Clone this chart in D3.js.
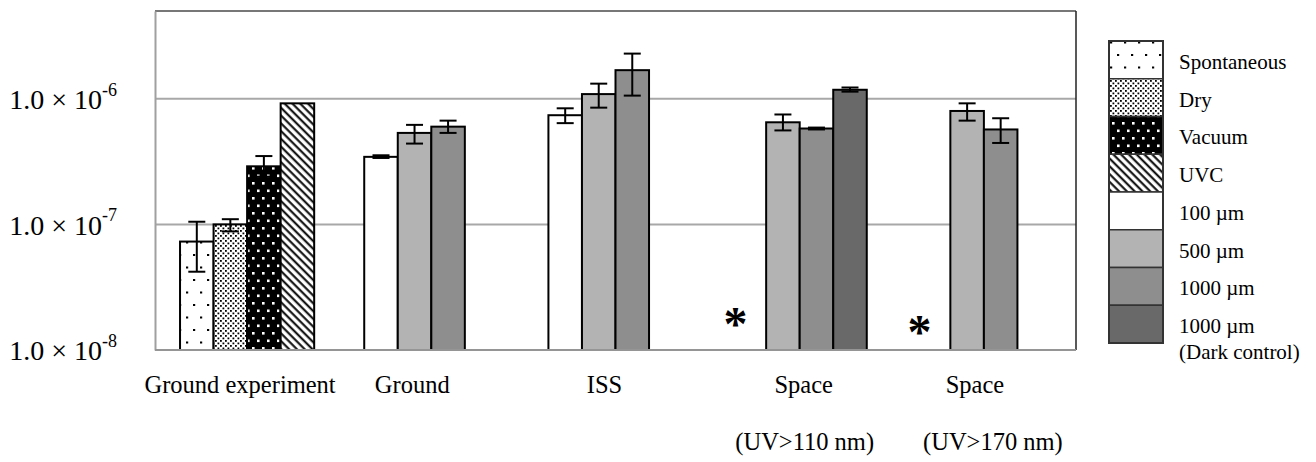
<!DOCTYPE html>
<html>
<head>
<meta charset="utf-8">
<script src="https://cdn.jsdelivr.net/npm/d3@7"></script>
<style>
  body { margin: 0; background: #fff; }
  svg { font-family: "Liberation Serif", "Times New Roman", serif; }
</style>
</head>
<body>
<svg id="canvas" width="1316" height="462"></svg>
<script>
// categories along the x axis
let categories = ['Ground experiment', 'Ground', 'ISS', 'Space (UV>110 nm)', 'Space (UV>170 nm)']

// ground experiment series (first category only)
let groundSeries = ['Spontaneous', 'Dry', 'Vacuum', 'UVC']
let groundValues = [7.3e-8, 1.0e-7, 2.9e-7, 9.2e-7]
let groundErrLow = [4.2e-8, 8.8e-8, 2.4e-7, null]
let groundErrHigh = [1.05e-7, 1.1e-7, 3.5e-7, null]

// thickness series (other categories)
let thickSeries = ['100 µm', '500 µm', '1000 µm', '1000 µm (Dark control)']
let thickCategories = ['Ground', 'ISS', 'Space (UV>110 nm)', 'Space (UV>170 nm)']
let values100 = [3.45e-7, 7.4e-7, null, null]
let values500 = [5.35e-7, 1.09e-6, 6.5e-7, 8.0e-7]
let values1000 = [6.0e-7, 1.69e-6, 5.8e-7, 5.7e-7]
let valuesDark = [null, null, 1.18e-6, null]
let errLow100 = [3.38e-7, 6.4e-7, null, null]
let errHigh100 = [3.55e-7, 8.4e-7, null, null]
let errLow500 = [4.4e-7, 8.5e-7, 5.6e-7, 6.7e-7]
let errHigh500 = [6.2e-7, 1.32e-6, 7.5e-7, 9.2e-7]
let errLow1000 = [5.35e-7, 1.06e-6, 5.7e-7, 4.45e-7]
let errHigh1000 = [6.7e-7, 2.29e-6, 5.9e-7, 7.0e-7]
let errLowDark = [null, null, 1.14e-6, null]
let errHighDark = [null, null, 1.23e-6, null]

// not detected (asterisk)
let notDetected = ['Space (UV>110 nm)', 'Space (UV>170 nm)']

let yTicks = [1e-8, 1e-7, 1e-6]
let yGrid = [1e-7, 1e-6]

let legendLabels = ['Spontaneous', 'Dry', 'Vacuum', 'UVC', '100 µm', '500 µm', '1000 µm', '1000 µm']

let canvas = d3.select('#canvas')

let plotLeft = 155, plotRight = 1076, plotTop = 11, plotBottom = 350

let xScale = d3.scaleBand()
    .domain(categories)
    .range([plotLeft, plotRight])
    .paddingInner(0.2717)
    .paddingOuter(0.1359)

let slotScale = d3.scaleBand()
    .domain([0, 1, 2, 3])
    .range([0, xScale.bandwidth()])

let yScale = d3.scaleLog()
    .domain([1e-8, 5e-6])
    .range([plotBottom, plotTop])

// patterns
let defs = canvas.append('defs')

let pSpont = defs.append('pattern').attr('id', 'spont')
    .attr('patternUnits', 'userSpaceOnUse').attr('width', 14).attr('height', 25)
    .attr('x', 4).attr('y', 0)
pSpont.append('rect').attr('width', 14).attr('height', 25).attr('fill', '#fff')
pSpont.append('rect').attr('x', 7).attr('y', 4).attr('width', 2.2).attr('height', 2).attr('fill', '#000')
pSpont.append('rect').attr('x', 0).attr('y', 16.5).attr('width', 2.2).attr('height', 2).attr('fill', '#000')

let pDry = defs.append('pattern').attr('id', 'dry')
    .attr('patternUnits', 'userSpaceOnUse').attr('width', 5).attr('height', 5)
pDry.append('rect').attr('width', 5).attr('height', 5).attr('fill', '#fff')
pDry.append('rect').attr('x', 0).attr('y', 0).attr('width', 1.8).attr('height', 1.8).attr('fill', '#000')
pDry.append('rect').attr('x', 2.5).attr('y', 2.5).attr('width', 1.8).attr('height', 1.8).attr('fill', '#000')

let pVac = defs.append('pattern').attr('id', 'vacuum')
    .attr('patternUnits', 'userSpaceOnUse').attr('width', 10).attr('height', 15)
pVac.append('rect').attr('width', 10).attr('height', 15).attr('fill', '#000')
pVac.append('rect').attr('x', 2).attr('y', 2).attr('width', 2.6).attr('height', 2.6).attr('fill', '#fff')
pVac.append('rect').attr('x', 7).attr('y', 9.5).attr('width', 2.6).attr('height', 2.6).attr('fill', '#fff')

let pUvc = defs.append('pattern').attr('id', 'uvc')
    .attr('patternUnits', 'userSpaceOnUse').attr('width', 5.5).attr('height', 10)
    .attr('patternTransform', 'rotate(-45)')
pUvc.append('rect').attr('width', 5.5).attr('height', 10).attr('fill', '#fff')
pUvc.append('line').attr('x1', 1.5).attr('x2', 1.5).attr('y1', 0).attr('y2', 10)
    .attr('stroke', '#000').attr('stroke-width', 2)

let groundFills = ['url(#spont)', 'url(#dry)', 'url(#vacuum)', 'url(#uvc)']
let thickFills = ['#ffffff', '#b3b3b3', '#8e8e8e', '#696969']
let legendFills = groundFills.concat(thickFills)

// gridlines
canvas.append('g').selectAll('line')
    .data(yGrid)
    .enter()
    .append('line')
    .attr('x1', plotLeft).attr('x2', plotRight)
    .attr('y1', (d) => yScale(d)).attr('y2', (d) => yScale(d))
    .attr('stroke', '#a8a8a8').attr('stroke-width', 2)

// frame
canvas.append('line').attr('x1', plotLeft).attr('x2', plotRight).attr('y1', plotTop).attr('y2', plotTop)
    .attr('stroke', '#4a4a4a').attr('stroke-width', 1.5)
canvas.append('line').attr('x1', plotRight).attr('x2', plotRight).attr('y1', plotTop).attr('y2', plotBottom)
    .attr('stroke', '#222').attr('stroke-width', 1.5)

// build bar records
let bars = []
groundSeries.forEach((s, i) => {
    bars.push({cat: categories[0], slot: i, value: groundValues[i], lo: groundErrLow[i], hi: groundErrHigh[i], fill: groundFills[i]})
})
let thickVals = [values100, values500, values1000, valuesDark]
let thickLo = [errLow100, errLow500, errLow1000, errLowDark]
let thickHi = [errHigh100, errHigh500, errHigh1000, errHighDark]
thickCategories.forEach((c, ci) => {
    thickVals.forEach((arr, si) => {
        if (arr[ci] != null) {
            bars.push({cat: c, slot: si, value: arr[ci], lo: thickLo[si][ci], hi: thickHi[si][ci], fill: thickFills[si]})
        }
    })
})

let barX = (b) => xScale(b.cat) + slotScale(b.slot)

canvas.append('g').selectAll('rect')
    .data(bars)
    .enter()
    .append('rect')
    .attr('x', barX)
    .attr('y', (b) => yScale(b.value))
    .attr('width', slotScale.bandwidth())
    .attr('height', (b) => plotBottom - yScale(b.value))
    .attr('fill', (b) => b.fill)
    .attr('stroke', '#000')
    .attr('stroke-width', 2)

// error bars
let errBars = bars.filter((b) => b.lo != null)
let eb = canvas.append('g').selectAll('g')
    .data(errBars)
    .enter()
    .append('g')
    .attr('transform', (b) => 'translate(' + (barX(b) + slotScale.bandwidth() / 2) + ',0)')
    .attr('stroke', '#000')
    .attr('stroke-width', 2)
eb.append('line').attr('y1', (b) => yScale(b.lo)).attr('y2', (b) => yScale(b.hi))
eb.append('line').attr('x1', -8.5).attr('x2', 8.5).attr('y1', (b) => yScale(b.lo)).attr('y2', (b) => yScale(b.lo))
eb.append('line').attr('x1', -8.5).attr('x2', 8.5).attr('y1', (b) => yScale(b.hi)).attr('y2', (b) => yScale(b.hi))

// asterisks for not detected 100 µm
let asteriskY = [340, 348]
canvas.append('g').selectAll('text')
    .data(notDetected)
    .enter()
    .append('text')
    .attr('x', (c) => xScale(c) + slotScale(0) + slotScale.bandwidth() / 2 - 14)
    .attr('y', (c, i) => asteriskY[i])
    .attr('text-anchor', 'middle')
    .attr('font-size', 48)
    .attr('font-weight', 'bold')
    .text('*')

// y axis
let yAxis = d3.axisLeft(yScale).tickValues(yTicks).tickSize(0).tickPadding(38).tickFormat(() => '')
let yG = canvas.append('g').attr('transform', 'translate(' + plotLeft + ',0)').call(yAxis)
yG.select('.domain').attr('stroke', '#a0a0a0').attr('stroke-width', 2)
yG.selectAll('.tick text')
    .attr('font-family', '"Liberation Serif", serif')
    .attr('font-size', 28)
    .attr('fill', '#000')
    .attr('dy', '0.35em')
    .each(function (d) {
        let t = d3.select(this)
        t.append('tspan').text('1.0 × 10')
        t.append('tspan').attr('font-size', 18).attr('dy', '-0.75em').text(Math.round(Math.log10(d)))
    })

// x axis baseline
let xAxis = d3.axisBottom(xScale).tickSize(0).tickFormat(() => '')
let xG = canvas.append('g').attr('transform', 'translate(0,' + plotBottom + ')').call(xAxis)
xG.select('.domain').attr('stroke', '#959595').attr('stroke-width', 2)
    .attr('d', 'M' + plotLeft + ',0H' + plotRight)

// category labels
let labelShift = [-7, -19, -11, 4, -9]
let subShift = [0, 0, 0, 5, 9]
categories.forEach((c, i) => {
    let parts = c.split(' (')
    let cx = xScale(c) + xScale.bandwidth() / 2
    canvas.append('text')
        .attr('x', cx + labelShift[i]).attr('y', 393)
        .attr('text-anchor', 'middle').attr('font-size', 24.5)
        .text(parts[0])
    if (parts.length > 1) {
        canvas.append('text')
            .attr('x', cx + subShift[i]).attr('y', 450)
            .attr('text-anchor', 'middle').attr('font-size', 24.5)
            .text('(' + parts[1])
    }
})

// legend
let legX = 1109, legY = 41, legH = 37.75, legW = 54
let leg = canvas.append('g')
leg.selectAll('rect')
    .data(legendLabels)
    .enter()
    .append('rect')
    .attr('x', legX)
    .attr('y', (d, i) => legY + i * legH)
    .attr('width', legW)
    .attr('height', legH)
    .attr('fill', (d, i) => legendFills[i])
    .attr('stroke', '#333')
    .attr('stroke-width', 1.5)
leg.append('rect')
    .attr('x', legX).attr('y', legY)
    .attr('width', legW).attr('height', legH * legendLabels.length)
    .attr('fill', 'none').attr('stroke', '#333').attr('stroke-width', 2)
leg.selectAll('text')
    .data(legendLabels)
    .enter()
    .append('text')
    .attr('x', legX + 70)
    .attr('y', (d, i) => legY + i * legH + legH / 2 + 9)
    .attr('font-size', 21)
    .text((d) => d)
leg.append('text')
    .attr('x', legX + 70)
    .attr('y', legY + 7 * legH + legH / 2 + 9 + 26)
    .attr('font-size', 21)
    .text('(Dark control)')
</script>
</body>
</html>
